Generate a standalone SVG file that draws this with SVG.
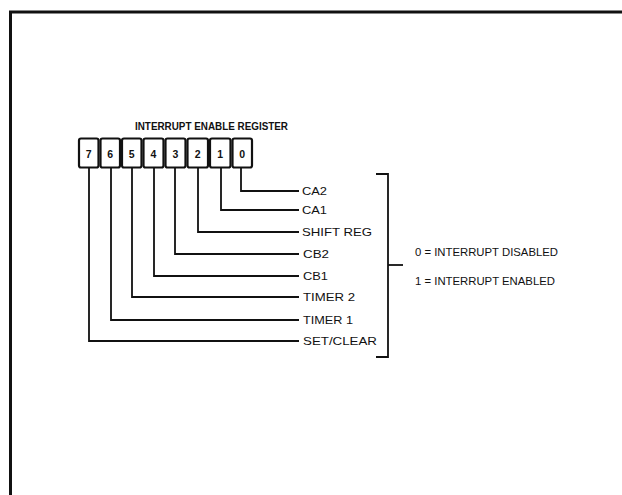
<svg xmlns="http://www.w3.org/2000/svg" width="622" height="495" viewBox="0 0 622 495">
<style>
.ln{fill:none;stroke:#111;stroke-width:1.8;stroke-linejoin:miter}
.box{fill:#fff;stroke:#111;stroke-width:2.2}
.dg{font-family:"Liberation Sans",Arial,sans-serif;font-size:10.5px;font-weight:bold;fill:#111;text-anchor:middle}
.lb{font-family:"Liberation Sans",Arial,sans-serif;font-size:10.5px;fill:#111}
.tt{font-family:"Liberation Sans",Arial,sans-serif;font-size:10.5px;font-weight:bold;fill:#111}
</style>
<rect width="622" height="495" fill="#fff"/>
<path d="M10.5 495 V12 H622" fill="none" stroke="#111" stroke-width="3"/>
<text class="tt" x="135" y="129.5" textLength="153" lengthAdjust="spacingAndGlyphs">INTERRUPT ENABLE REGISTER</text>
<g id="register">
<g id="bit7"><rect class="box" x="79" y="138.5" width="19.5" height="29" rx="2"/><text class="dg" x="88.7" y="157.5">7</text></g>
<g id="bit6"><rect class="box" x="100.5" y="138.5" width="19.5" height="29" rx="2"/><text class="dg" x="110.2" y="157.5">6</text></g>
<g id="bit5"><rect class="box" x="122" y="138.5" width="19.5" height="29" rx="2"/><text class="dg" x="131.7" y="157.5">5</text></g>
<g id="bit4"><rect class="box" x="143.5" y="138.5" width="20" height="29" rx="2"/><text class="dg" x="153.5" y="157.5">4</text></g>
<g id="bit3"><rect class="box" x="165.5" y="138.5" width="20" height="29" rx="2"/><text class="dg" x="175.5" y="157.5">3</text></g>
<g id="bit2"><rect class="box" x="187.5" y="138.5" width="20.5" height="29" rx="2"/><text class="dg" x="197.7" y="157.5">2</text></g>
<g id="bit1"><rect class="box" x="210" y="138.5" width="20.5" height="29" rx="2"/><text class="dg" x="220.2" y="157.5">1</text></g>
<g id="bit0"><rect class="box" x="232.5" y="138.5" width="19.5" height="29" rx="2"/><text class="dg" x="242.2" y="157.5">0</text></g>
</g>
<g id="connectors">
<path class="ln" d="M241 168 V191 H299"/>
<path class="ln" d="M221 168 V210 H299"/>
<path class="ln" d="M198 168 V232 H299"/>
<path class="ln" d="M175 168 V254 H299"/>
<path class="ln" d="M154 168 V276 H299"/>
<path class="ln" d="M132 168 V297 H299"/>
<path class="ln" d="M111 168 V320 H299"/>
<path class="ln" d="M89 168 V341 H299"/>
</g>
<g id="labels">
<text class="lb" x="302" y="194.5" textLength="25" lengthAdjust="spacingAndGlyphs">CA2</text>
<text class="lb" x="302" y="213.5" textLength="25" lengthAdjust="spacingAndGlyphs">CA1</text>
<text class="lb" x="302" y="236" textLength="70" lengthAdjust="spacingAndGlyphs">SHIFT REG</text>
<text class="lb" x="303" y="258" textLength="26" lengthAdjust="spacingAndGlyphs">CB2</text>
<text class="lb" x="303" y="280" textLength="25" lengthAdjust="spacingAndGlyphs">CB1</text>
<text class="lb" x="303" y="301" textLength="52" lengthAdjust="spacingAndGlyphs">TIMER 2</text>
<text class="lb" x="303" y="324" textLength="50" lengthAdjust="spacingAndGlyphs">TIMER 1</text>
<text class="lb" x="303" y="345" textLength="74" lengthAdjust="spacingAndGlyphs">SET/CLEAR</text>
</g>
<g id="bracket">
<path class="ln" d="M376 174 H388 V357 H376"/>
<path class="ln" d="M388 265 H403"/>
</g>
<g id="legend">
<text class="lb" x="415" y="256" textLength="143" lengthAdjust="spacingAndGlyphs">0 = INTERRUPT DISABLED</text>
<text class="lb" x="415" y="285" textLength="140" lengthAdjust="spacingAndGlyphs">1 = INTERRUPT ENABLED</text>
</g>
</svg>
